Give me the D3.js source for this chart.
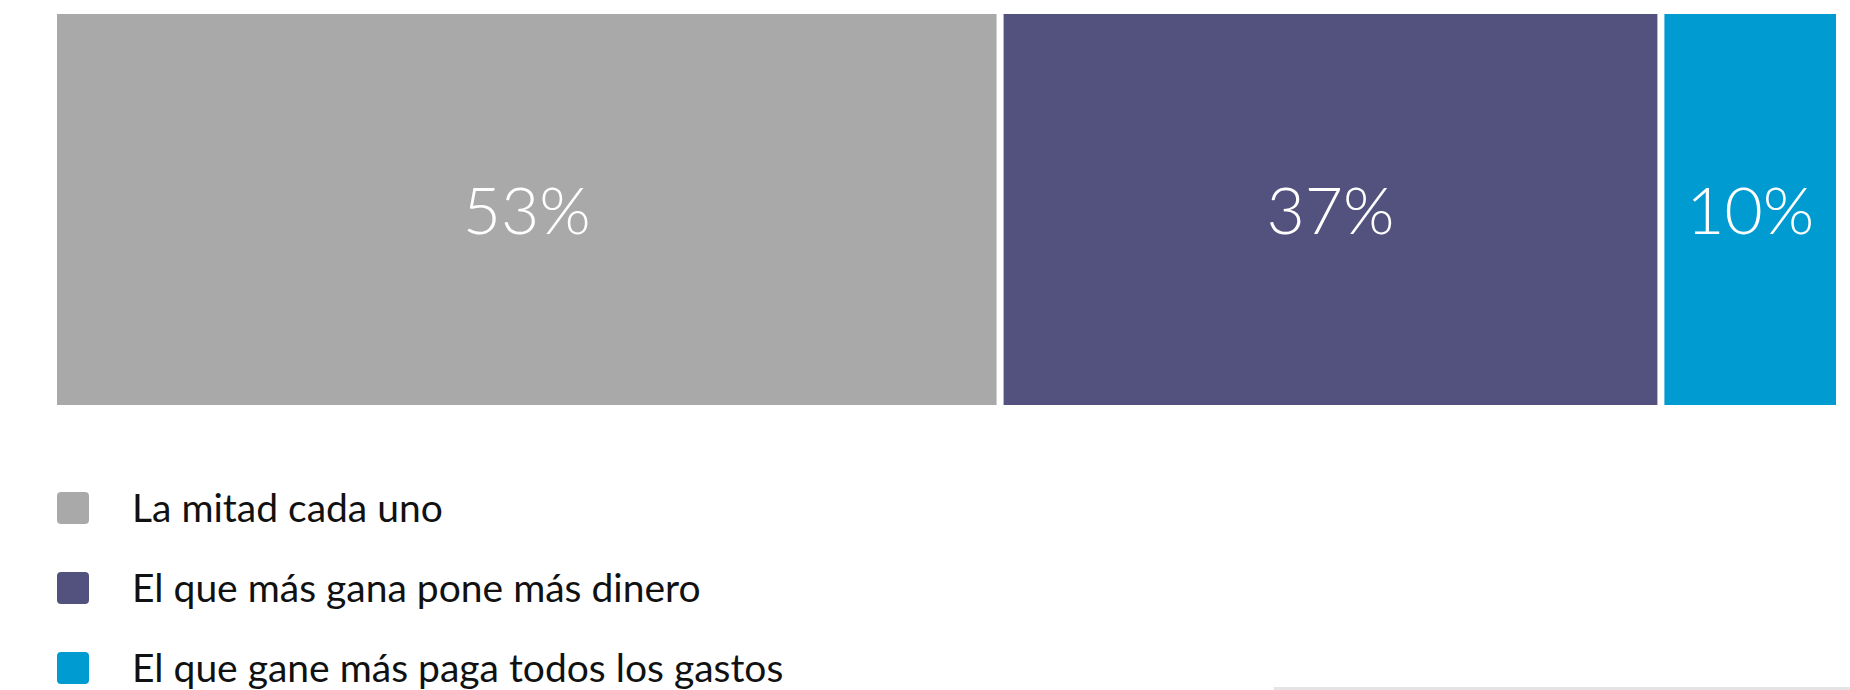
<!DOCTYPE html>
<html>
<head>
<meta charset="utf-8">
<script src="https://cdn.jsdelivr.net/npm/d3@7"></script>
<style>
  html, body { margin: 0; padding: 0; background: #fff; }
  svg { display: block; }
</style>
</head>
<body>
<div id="chart"></div>
<script>
// data
const categories = ['La mitad cada uno', 'El que más gana pone más dinero', 'El que gane más paga todos los gastos']
const values = [53, 37, 10]
const colors = ['#a9a9a9', '#53527f', '#009bd1']

const width = 1850
const height = 690
const barTop = 14
const barBottom = 405
const gap = 7

const svg = d3.select('#chart')
  .append('svg')
  .attr('width', width)
  .attr('height', height)

const data = values.map((v, i) => ({
  name: categories[i],
  value: v,
  color: colors[i],
  start: d3.sum(values.slice(0, i))
}))

const x = d3.scaleLinear()
  .domain([0, d3.sum(values)])
  .range([57, 1836 + gap])

const bars = svg.append('g')
  .selectAll('g')
  .data(data)
  .join('g')

bars.append('rect')
  .attr('x', d => x(d.start))
  .attr('y', barTop)
  .attr('width', d => x(d.start + d.value) - x(d.start) - gap)
  .attr('height', barBottom - barTop)
  .attr('fill', d => d.color)

bars.append('text')
  .attr('x', d => (x(d.start) + x(d.start + d.value) - gap) / 2)
  .attr('y', 234)
  .attr('text-anchor', 'middle')
  .attr('fill', '#fff')
  .attr('font-family', 'Lato, sans-serif')
  .attr('font-weight', 300)
  .attr('font-size', 66)
  .text(d => d.value + '%')

// legend
const y = d3.scaleBand()
  .domain(categories)
  .range([468, 708])

const legend = svg.append('g')
  .selectAll('g')
  .data(data)
  .join('g')
  .attr('transform', d => `translate(0, ${y(d.name)})`)

legend.append('rect')
  .attr('x', 57)
  .attr('y', 24)
  .attr('width', 32)
  .attr('height', 32)
  .attr('rx', 4)
  .attr('fill', d => d.color)

legend.append('text')
  .attr('x', 132)
  .attr('y', 54)
  .attr('fill', '#111')
  .attr('font-family', 'Lato, sans-serif')
  .attr('font-size', 39)
  .text(d => d.name)

// faint edge of a card in the lower right
svg.append('rect')
  .attr('x', 1274)
  .attr('y', 687)
  .attr('width', width - 1274)
  .attr('height', 3)
  .attr('fill', '#e4e4e4')
</script>
</body>
</html>
